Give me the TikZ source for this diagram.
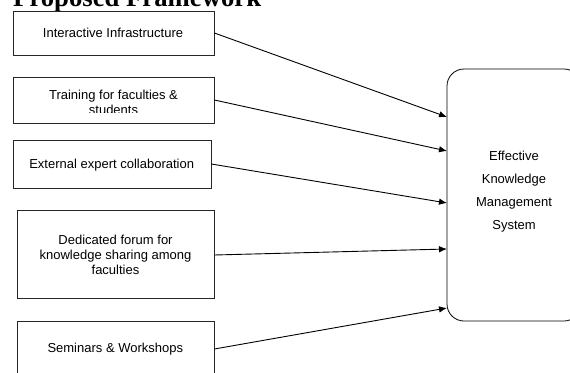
\documentclass[tikz,border=0pt]{standalone}
\usepackage{fontspec}
\setmainfont{Liberation Sans}
\newfontfamily\titlefont{Liberation Serif}
\usetikzlibrary{arrows.meta}
\begin{document}
\begin{tikzpicture}[x=1pt,y=-1pt,
  srcbox/.style={draw=black!85, line width=0.8pt, rectangle, inner sep=0pt},
  lbl/.style={align=center, font=\fontsize{13}{15.3}\selectfont, inner sep=0pt},
  arr/.style={-{Latex[length=8pt,width=6.5pt]}, line width=0.9pt}]
\useasboundingbox (0,0) rectangle (570,372);

\node[anchor=base west, inner sep=0pt, font=\titlefont\bfseries\fontsize{26.7}{27}\selectfont] (title) at (13,6.5) {Proposed Framework};

\node[srcbox, minimum width=201pt, minimum height=44pt] (b1) at (113.5,33) {};
\node[lbl] at (113,33) {Interactive Infrastructure};

\node[srcbox, minimum width=201pt, minimum height=46pt] (b2) at (113.5,100) {};
\begin{scope}
  \clip (13,77) rectangle (214,112.3);
  \node[lbl] (t2) at (113.5,102.7) {Training for faculties \&\\students};
\end{scope}

\node[srcbox, minimum width=198pt, minimum height=48pt] (b3) at (112,164) {};
\node[lbl] at (111.7,165) {External expert collaboration};

\node[srcbox, minimum width=197pt, minimum height=88pt] (b4) at (115.5,254) {};
\node[lbl] at (115.5,255) {Dedicated forum for\\knowledge sharing among\\faculties};

\node[srcbox, minimum width=197pt, minimum height=56pt] (b5) at (115.5,349) {};
\node[lbl] at (115.3,349) {Seminars \& Workshops};

\node[draw=black, line width=0.8pt, rounded corners=17pt, minimum width=134pt, minimum height=252pt, inner sep=0pt] (ems) at (514,195) {};
\node[align=center, inner sep=0pt, font=\fontsize{13}{23}\selectfont] at (514,192) {Effective\\Knowledge\\Management\\System};

\coordinate (e1) at (447,117);
\coordinate (e2) at (447,151);
\coordinate (e3) at (447,203);
\coordinate (e4) at (447,249);
\coordinate (e5) at (447,308);

\draw[arr] (b1.east) -- (e1);
\draw[arr] (b2.east) -- (e2);
\draw[arr] (b3.east) -- (e3);
\draw[arr] (b4.east) ++(0,1) -- (e4);
\draw[arr] (b5.east) -- (e5);
\end{tikzpicture}
\end{document}
